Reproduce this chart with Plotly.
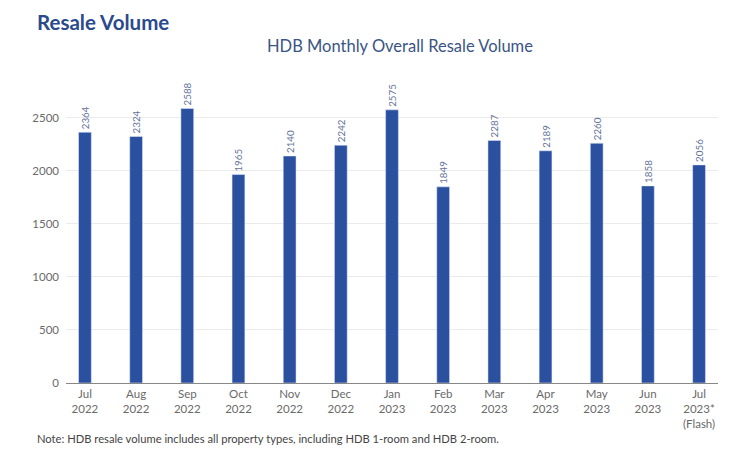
import plotly.graph_objects as go

months = ["Jul<br>2022", "Aug<br>2022", "Sep<br>2022", "Oct<br>2022", "Nov<br>2022", "Dec<br>2022",
          "Jan<br>2023", "Feb<br>2023", "Mar<br>2023", "Apr<br>2023", "May<br>2023", "Jun<br>2023",
          "Jul<br>2023*<br>(Flash)"]
volumes = [2364, 2324, 2588, 1965, 2140, 2242, 2575, 1849, 2287, 2189, 2260, 1858, 2056]
y_ticks = [0, 500, 1000, 1500, 2000, 2500]

x_idx = list(range(len(months)))

fig = go.Figure(go.Bar(
    x=x_idx, y=volumes, width=0.25,
    marker=dict(color="#2B50A0"),
    text=[str(v) for v in volumes], textposition="outside", textangle=-90,
    constraintext="none",
    textfont=dict(size=9.8, color="#64739A", family="Lato"),
    cliponaxis=False,
))

fig.update_layout(
    width=750, height=454,
    margin=dict(l=66, r=32, t=86, b=71),
    paper_bgcolor="white", plot_bgcolor="white",
    font=dict(family="Lato", color="#555555"),
    showlegend=False,
    xaxis=dict(tickmode="array", tickvals=x_idx, ticktext=months, range=[-0.37, 12.37],
               showline=True, linecolor="#888888", linewidth=1, ticks="",
               tickfont=dict(size=11.5, color="#6A6A6A"), showgrid=False),
    yaxis=dict(range=[0, 2800], tickvals=y_ticks, showgrid=True, gridcolor="#EBEBEB",
               zeroline=False, tickfont=dict(size=11.5, color="#6A6A6A"), ticks="",
               ticklabelstandoff=6),
    annotations=[
        dict(text="<b>Resale Volume</b>", x=35, y=22,
             showarrow=False, font=dict(size=20.5, color="#2A4A8C", family="Lato"),
             xanchor="left", yanchor="middle"),
        dict(text="HDB Monthly Overall Resale Volume", x=400, y=46,
             showarrow=False, font=dict(size=16.5, color="#3A5585", family="Lato"),
             xanchor="center", yanchor="middle"),
        dict(text="Note: HDB resale volume includes all property types, including HDB 1-room and HDB 2-room.",
             x=35, y=438, showarrow=False, font=dict(size=11.2, color="#444444", family="Lato"),
             xanchor="left", yanchor="middle"),
    ],
)
# convert pixel annotation positions to paper coords
pw, ph = 750 - 66 - 32, 454 - 86 - 71
for a in fig.layout.annotations:
    a.x = (a.x - 66) / pw
    a.y = 1 - (a.y - 86) / ph
    a.xref = "paper"
    a.yref = "paper"

fig.write_html("out.html")
